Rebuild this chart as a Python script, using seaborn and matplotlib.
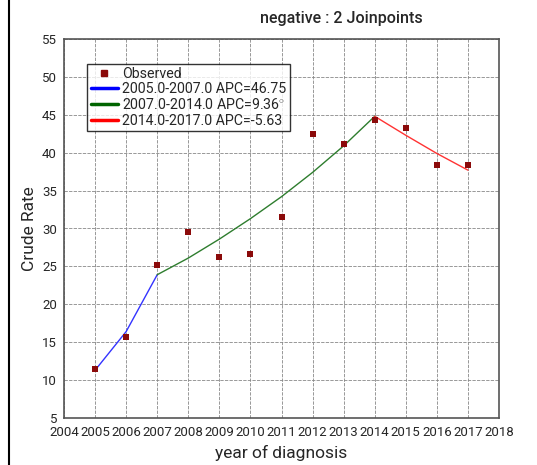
import matplotlib
matplotlib.use("Agg")
import matplotlib.pyplot as plt
import seaborn as sns
import pandas as pd
from matplotlib.lines import Line2D

years = [2005, 2006, 2007, 2008, 2009, 2010, 2011, 2012, 2013, 2014, 2015, 2016, 2017]
observed = [11.5, 15.7, 25.2, 29.5, 26.2, 26.6, 31.5, 42.5, 41.1, 44.3, 43.3, 38.4, 38.4]

seg1_years = [2005, 2006, 2007]
seg1_fit = [11.3, 16.4, 23.9]
seg2_years = [2007, 2008, 2009, 2010, 2011, 2012, 2013, 2014]
seg2_fit = [23.9, 26.1, 28.6, 31.3, 34.2, 37.4, 40.9, 44.8]
seg3_years = [2014, 2015, 2016, 2017]
seg3_fit = [44.8, 42.3, 39.9, 37.7]

seg_labels = ["2005.0-2007.0 APC=46.75", "2007.0-2014.0 APC=9.36$^{\\circ}$", "2014.0-2017.0 APC=-5.63"]
x_ticks = list(range(2004, 2019))
y_ticks = list(range(5, 56, 5))

sns.set_theme(style="white")
plt.rcParams['font.family'] = ['Roboto', 'DejaVu Sans']
plt.rcParams['mathtext.fontset'] = 'custom'
plt.rcParams['mathtext.rm'] = 'Roboto'

fig = plt.figure(figsize=(5.37, 4.65), dpi=100)
ax = fig.add_axes([64/537, 1 - 418/465, (499-64)/537, (418-39)/465])

df_obs = pd.DataFrame({"year": years, "rate": observed})
sns.scatterplot(data=df_obs, x="year", y="rate", ax=ax, marker="s", s=22,
                color="#8b0a0a", edgecolor="#8b0a0a", linewidth=0, label="Observed", zorder=3)
for yrs, fit, col, lab in [(seg1_years, seg1_fit, "#3333ff", seg_labels[0]),
                           (seg2_years, seg2_fit, "#2e7d2e", seg_labels[1]),
                           (seg3_years, seg3_fit, "#ff3333", seg_labels[2])]:
    d = pd.DataFrame({"year": yrs, "rate": fit})
    sns.lineplot(data=d, x="year", y="rate", ax=ax, color=col, linewidth=1.0, label=lab, zorder=2)

ax.set_xlim(2004, 2018)
ax.set_ylim(5, 55)
ax.set_xticks(x_ticks)
ax.set_yticks(y_ticks)
ax.tick_params(axis='x', labelsize=9.5, length=0, pad=6)
ax.tick_params(axis='y', labelsize=9.5, length=0, pad=5)
ax.grid(True, color="#888888", linestyle=(0, (4, 1.5)), linewidth=0.6)
for sp in ax.spines.values():
    sp.set_color("#555555")
    sp.set_linewidth(1.2)

ax.set_xlabel("year of diagnosis", fontsize=12.5, labelpad=4)
ax.set_ylabel("Crude Rate", fontsize=12.5, labelpad=4)

new_handles = [Line2D([], [], marker="s", color="#8b0a0a", linestyle="none", markersize=5)]
for c in ["#0000ff", "#006400", "#ff0000"]:
    new_handles.append(Line2D([], [], color=c, linewidth=2.5))
leg = ax.legend(new_handles, ["Observed"] + seg_labels, loc="upper left",
                bbox_to_anchor=(0.053, 0.935), fontsize=10.2, frameon=True, fancybox=False,
                handlelength=1.9, handletextpad=0.3, borderpad=0.25, labelspacing=0.08,
                borderaxespad=0)
leg.get_frame().set_edgecolor("black")
leg.get_frame().set_linewidth(1.0)

fig.text(341/537, 1 - 18/465, "negative : 2 Joinpoints", ha="center", va="center",
         fontsize=11.5, fontweight="medium")

fig.add_artist(Line2D([9/537, 9/537], [0, 1], transform=fig.transFigure, color="black", linewidth=1.5))

fig.savefig("out.png", dpi=100)
